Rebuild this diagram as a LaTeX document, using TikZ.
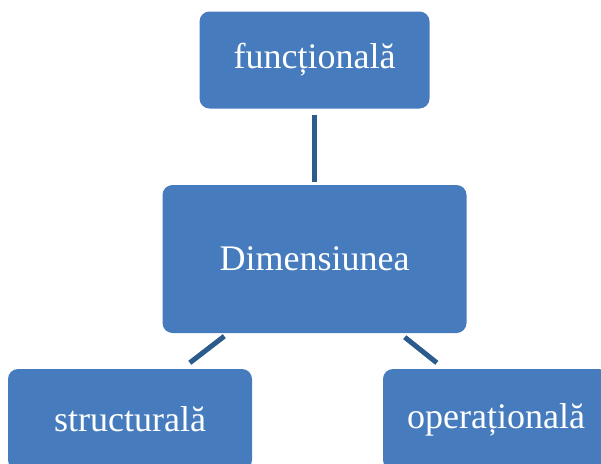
\documentclass[tikz,border=0pt]{standalone}
\usepackage{fontspec}
\setmainfont{Liberation Serif}
\usetikzlibrary{calc}
\definecolor{boxblue}{RGB}{70,124,189}
\definecolor{lineblue}{RGB}{44,92,142}

\begin{document}
\begin{tikzpicture}[x=1pt, y=-1pt,
  box/.style={fill=boxblue, rounded corners=10pt, text=white,
    font=\fontsize{36}{40}\selectfont, inner sep=0pt},
  link/.style={draw=lineblue, line width=5pt}]
\clip (0,0) rectangle (601,463);
\node[box, minimum width=230pt, minimum height=97pt] (fn) at (314.5,60) {funcțională};
\node[box, minimum width=304pt, minimum height=148pt] (dim) at (314.5,259) {Dimensiunea};
\node[box, minimum width=244pt, minimum height=101pt] (sl) at (130,419.5) {structurală};
\node[box, minimum width=226pt, minimum height=101pt] (op) at (496,419.5) {operațională};

\draw[link] ([yshift=-6pt]fn.south) -- ([yshift=3pt]dim.north);
\draw[link] ([xshift=62pt,yshift=-3pt]dim.south west) -- ([xshift=182pt,yshift=6pt]sl.north west);
\draw[link] ([xshift=-62pt,yshift=-4pt]dim.south east) -- ([xshift=54pt,yshift=6pt]op.north west);
\end{tikzpicture}
\end{document}
